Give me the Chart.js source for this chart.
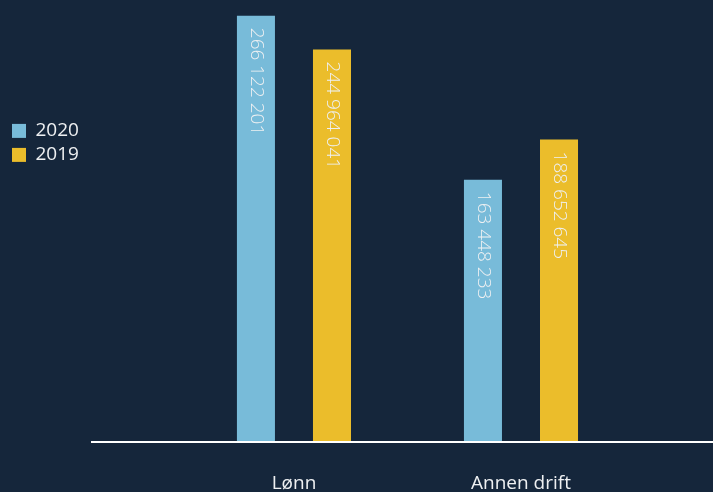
<!DOCTYPE html>
<html>
<head>
<meta charset="utf-8">
<script src="https://cdn.jsdelivr.net/npm/chart.js@4/dist/chart.umd.min.js"></script>
<style>
    html, body { margin: 0; padding: 0; background: #15263b; }
    #wrap { width: 713px; height: 492px; position: relative; }
</style>
</head>
<body>
<div id="wrap"><canvas id="costChart"></canvas></div>
<script>
// Data
const categories = ['Lønn', 'Annen drift'];
const values2020 = [266122201, 163448233];
const values2019 = [244964041, 188652645];
const seriesLabels = ['2020', '2019'];

const BG = '#15263b';
const BLUE = '#78bbd9';
const YELLOW = '#ebbd2b';
const TEXT = '#eef0f2';
const FONT = "'Open Sans', sans-serif";

function formatNumber(v) {
    return String(v).replace(/\B(?=(\d{3})+(?!\d))/g, ' ');
}

// Fill canvas background
const backgroundPlugin = {
    id: 'background',
    beforeDraw(chart) {
        const ctx = chart.ctx;
        ctx.save();
        ctx.fillStyle = BG;
        ctx.fillRect(0, 0, chart.width, chart.height);
        ctx.restore();
    }
};

// White baseline running past the plot area, and rotated value labels inside bars
const barDecorPlugin = {
    id: 'barDecor',
    afterDatasetsDraw(chart) {
        const ctx = chart.ctx;
        const y0 = chart.scales.y.getPixelForValue(0);
        ctx.save();
        ctx.strokeStyle = '#ffffff';
        ctx.lineWidth = 2;
        ctx.beginPath();
        ctx.moveTo(91, y0 + 1);
        ctx.lineTo(chart.width, y0 + 1);
        ctx.stroke();

        ctx.fillStyle = TEXT;
        ctx.font = '300 19px ' + FONT;
        ctx.textAlign = 'left';
        ctx.textBaseline = 'middle';
        chart.data.datasets.forEach((ds, i) => {
            chart.getDatasetMeta(i).data.forEach((bar, j) => {
                ctx.save();
                ctx.translate(bar.x, bar.y + 12);
                ctx.rotate(Math.PI / 2);
                ctx.fillText(formatNumber(ds.data[j]), 0, 0);
                ctx.restore();
            });
        });
        ctx.restore();
    }
};

const ctx = document.getElementById('costChart');
new Chart(ctx, {
    type: 'bar',
    data: {
        labels: categories,
        datasets: [{
            label: seriesLabels[0],
            data: values2020,
            backgroundColor: BLUE
        }, {
            label: seriesLabels[1],
            data: values2019,
            backgroundColor: YELLOW
        }]
    },
    options: {
        responsive: true,
        maintainAspectRatio: false,
        animation: false,
        devicePixelRatio: 1,
        categoryPercentage: 0.67,
        barPercentage: 0.5,
        layout: {
            padding: { left: 7, right: 78.5, top: 0, bottom: -34 }
        },
        plugins: {
            tooltip: { enabled: false },
            legend: {
                position: 'left',
                align: 'start',
                title: {
                    display: true,
                    text: ' ',
                    padding: { top: 102, bottom: 0 }
                },
                labels: {
                    boxWidth: 14,
                    boxHeight: 14,
                    padding: 5,
                    color: TEXT,
                    font: { family: FONT, size: 19, weight: '400' }
                }
            }
        },
        scales: {
            x: {
                grid: { display: false, drawTicks: false },
                border: { display: false },
                ticks: {
                    color: TEXT,
                    padding: 33,
                    font: { family: FONT, size: 19, weight: '400', lineHeight: 1 }
                }
            },
            y: {
                min: 0,
                max: 276000000,
                grid: { display: false, drawTicks: false },
                border: { display: false },
                ticks: { display: false },
                afterFit(scale) {
                    scale.width = 91.5;
                }
            }
        }
    },
    plugins: [backgroundPlugin, barDecorPlugin]
});
</script>
</body>
</html>
